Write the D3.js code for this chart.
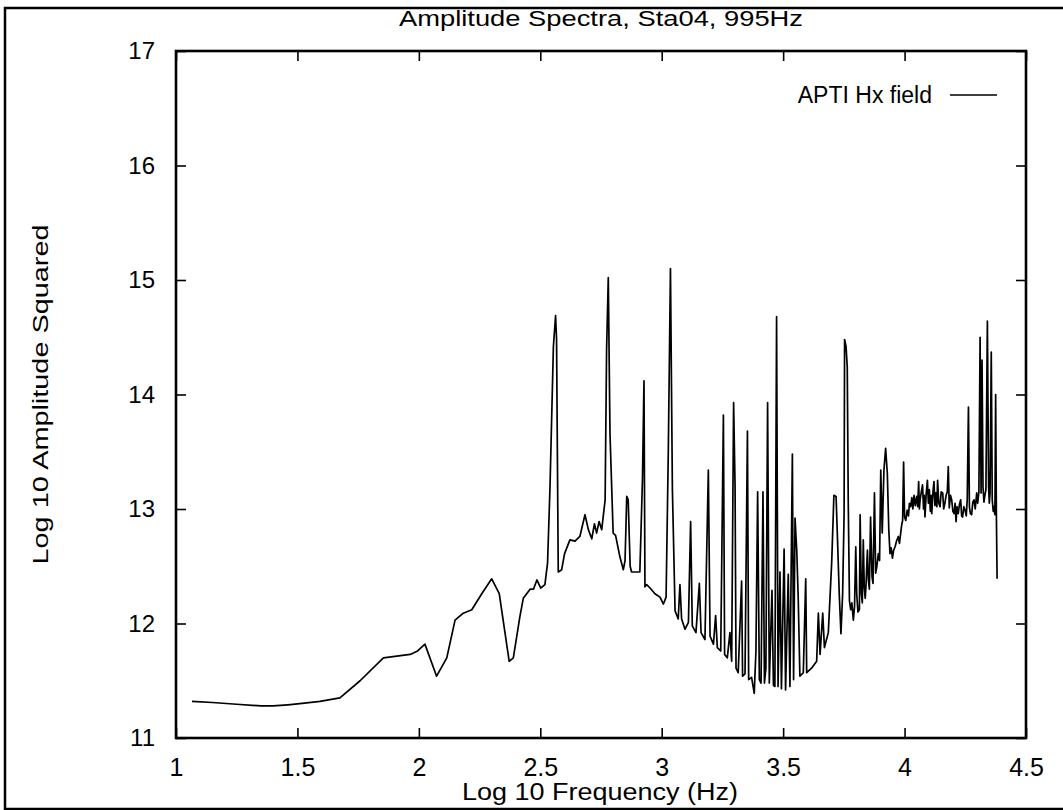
<!DOCTYPE html>
<html>
<head>
<meta charset="utf-8">
<script src="https://cdn.jsdelivr.net/npm/d3@7"></script>
<style>
  body { margin: 0; background: #fff; }
  text { font-family: "Liberation Sans", Arial, sans-serif; fill: #000; }
</style>
</head>
<body>
<script>
var chartTitle = "Amplitude Spectra, Sta04, 995Hz";
var xLabel = "Log 10 Frequency (Hz)";
var yLabel = "Log 10 Amplitude Squared";
var seriesName = "APTI Hx field";
var xTicks = [1, 1.5, 2, 2.5, 3, 3.5, 4, 4.5];
var yTicks = [11, 12, 13, 14, 15, 16, 17];

// log10 frequency (Hz)
var logFreq = [
  1.066, 1.15, 1.25, 1.35, 1.40, 1.46, 1.51, 1.593, 1.675, 1.758, 1.854, 1.964, 1.995, 2.025,
  2.073, 2.115, 2.149, 2.183, 2.218, 2.259, 2.30, 2.331, 2.372, 2.389, 2.416, 2.43, 2.458,
  2.472, 2.486, 2.502, 2.519, 2.53, 2.54, 2.554, 2.563, 2.567, 2.574, 2.588, 2.60, 2.622,
  2.643, 2.663, 2.684, 2.698, 2.712, 2.723, 2.732, 2.742, 2.753, 2.767, 2.773, 2.78, 2.787,
  2.80, 2.81, 2.828, 2.842, 2.849, 2.856, 2.862, 2.87, 2.876, 2.91, 2.921, 2.927,
  2.931, 2.938, 2.952, 2.972, 2.993, 3.007, 3.018, 3.027, 3.036, 3.044, 3.055, 3.068, 3.075,
  3.082, 3.096, 3.110, 3.119, 3.126, 3.141, 3.155, 3.162, 3.178, 3.192, 3.199, 3.213, 3.222,
  3.229, 3.243, 3.254, 3.259, 3.270, 3.281, 3.288, 3.296, 3.302, 3.306, 3.315, 3.329, 3.333,
  3.343, 3.353, 3.358, 3.370, 3.381, 3.388, 3.395, 3.402, 3.409, 3.417, 3.423, 3.429, 3.436,
  3.443, 3.454, 3.460, 3.466, 3.473, 3.479, 3.487, 3.493, 3.504, 3.510, 3.521, 3.528, 3.538,
  3.543, 3.549, 3.556, 3.562, 3.569, 3.583, 3.593, 3.597, 3.617, 3.638, 3.645, 3.652, 3.663,
  3.670, 3.686, 3.700, 3.709, 3.718, 3.723, 3.731, 3.738, 3.745, 3.751, 3.753, 3.759, 3.764,
  3.768, 3.773, 3.778, 3.783, 3.789, 3.794, 3.799, 3.803, 3.808, 3.814, 3.817, 3.822, 3.826,
  3.830, 3.834, 3.838, 3.841, 3.847, 3.851, 3.855, 3.860, 3.866, 3.870, 3.876, 3.881, 3.886,
  3.892, 3.897, 3.902, 3.908, 3.915, 3.922, 3.929, 3.935, 3.940, 3.945, 3.950, 3.955, 3.961,
  3.967, 3.974, 3.979, 3.984, 3.988, 3.992, 3.996, 4.000, 4.005, 4.011, 4.016, 4.020, 4.025,
  4.030, 4.034, 4.039, 4.044, 4.050, 4.054, 4.058, 4.061, 4.064, 4.069, 4.074, 4.078, 4.081,
  4.084, 4.089, 4.094, 4.098, 4.102, 4.106, 4.109, 4.112, 4.117, 4.121, 4.125, 4.129, 4.133,
  4.136, 4.141, 4.146, 4.151, 4.157, 4.161, 4.166, 4.171, 4.176, 4.180, 4.184, 4.189, 4.194,
  4.199, 4.204, 4.208, 4.212, 4.216, 4.221, 4.226, 4.231, 4.235, 4.239, 4.244, 4.249, 4.254,
  4.258, 4.263, 4.267, 4.271, 4.276, 4.281, 4.286, 4.291, 4.297, 4.301, 4.306, 4.311, 4.315,
  4.319, 4.323, 4.327, 4.330, 4.335, 4.341, 4.346, 4.349, 4.352, 4.357, 4.361, 4.365, 4.368,
  4.372, 4.375, 4.378, 4.381
];

// log10 amplitude squared at each frequency above
var logAmp = [
  11.32, 11.31, 11.295, 11.28, 11.28, 11.29, 11.30, 11.32, 11.35, 11.50, 11.70, 11.73, 11.76, 11.82,
  11.54, 11.70, 12.03, 12.09, 12.12, 12.26, 12.39, 12.26, 11.67, 11.70, 12.06, 12.22, 12.30,
  12.30, 12.38, 12.31, 12.34, 12.53, 13.19, 14.42, 14.69, 14.48, 12.45, 12.47, 12.61, 12.73,
  12.72, 12.76, 12.95, 12.82, 12.74, 12.87, 12.79, 12.89, 12.82, 13.08, 14.39, 15.02, 13.66,
  12.79, 12.77, 12.58, 12.47, 12.55, 13.11, 13.08, 12.50, 12.45, 12.45, 13.28, 14.12,
  12.32, 12.34, 12.31, 12.26, 12.23, 12.17, 12.23, 13.48, 15.10, 13.17, 12.11, 12.04, 12.34,
  12.04, 11.95, 12.01, 12.89, 11.98, 11.92, 12.35, 11.92, 11.86, 13.34, 11.89, 11.82, 12.07,
  11.79, 11.76, 13.82, 11.73, 11.70, 11.92, 11.67, 13.93, 13.20, 11.61, 11.57, 12.37, 11.54,
  11.56, 13.68, 11.51, 11.53, 11.39, 11.76, 13.15, 11.51, 11.48, 13.15, 11.48, 11.61, 13.93,
  11.48, 12.29, 11.46, 11.45, 14.68, 11.45, 12.45, 11.43, 12.65, 11.42, 12.43, 11.45, 13.48,
  11.51, 12.92, 12.64, 12.23, 11.54, 11.57, 12.39, 11.57, 11.61, 11.67, 12.09, 11.73, 12.09,
  11.79, 11.92, 12.54, 13.12, 13.11, 12.79, 12.26, 11.91, 12.26, 12.96, 14.48, 14.42, 14.24,
  13.08, 12.20, 12.12, 12.18, 12.03, 12.15, 12.67, 12.26, 12.10, 12.12, 12.95, 12.26, 12.18,
  12.73, 12.32, 12.22, 12.32, 12.64, 12.38, 12.30, 12.93, 12.41, 12.35, 13.14, 12.44, 12.50,
  12.61, 12.55, 13.34, 12.79, 13.34, 13.53, 13.31, 12.82, 12.61, 12.66, 12.57, 12.64, 12.67,
  12.72, 12.76, 12.70, 12.79, 12.86, 12.90, 13.41, 12.93, 12.90, 12.99, 12.94, 13.05, 13.02,
  13.10, 13.00, 13.12, 13.03, 13.11, 13.02, 13.24, 13.00, 13.08, 13.15, 13.21, 13.00, 13.12,
  12.93, 13.13, 13.25, 13.05, 13.17, 12.98, 13.12, 12.96, 13.15, 13.24, 13.03, 13.14, 13.02,
  13.25, 13.05, 13.02, 13.15, 13.14, 13.00, 13.05, 13.12, 13.15, 13.37, 13.01, 13.12, 13.08,
  12.98, 12.96, 13.05, 12.89, 13.02, 12.96, 13.04, 13.08, 12.94, 12.93, 13.02, 12.99, 12.94,
  13.08, 13.89, 13.02, 12.96, 12.95, 13.06, 13.08, 13.00, 13.14, 13.05, 13.15, 14.50, 13.14,
  14.30, 13.19, 13.06, 13.11, 13.17, 14.64, 13.19, 13.05, 13.14, 14.37, 13.08, 12.98, 13.02,
  12.95, 14.00, 12.96, 12.39
];

var width = 1063, height = 810,
    plotL = 176, plotR = 1026, plotT = 51, plotB = 738;

var svg = d3.select("body").append("svg")
  .attr("width", width)
  .attr("height", height);

// scanned page frame (no right edge in the scan)
svg.append("path")
  .attr("d", "M1063,8 L5,8 L5,809 L1063,809")
  .attr("fill", "none")
  .attr("stroke", "#000")
  .attr("stroke-width", 2.5);

var x = d3.scaleLinear().domain([1, 4.5]).range([plotL, plotR]);
var y = d3.scaleLinear().domain([11, 17]).range([plotB, plotT]);

var xAxis = svg.append("g")
  .attr("transform", "translate(0," + plotB + ")")
  .call(d3.axisBottom(x).tickValues(xTicks).tickSizeInner(-10).tickSizeOuter(0).tickPadding(20)
    .tickFormat(function(d) { return d; }));
xAxis.selectAll("text").style("font-size", "25px");

var yAxis = svg.append("g")
  .attr("transform", "translate(" + plotL + ",0)")
  .call(d3.axisLeft(y).tickValues(yTicks).tickSizeInner(-10).tickSizeOuter(0).tickPadding(21)
    .tickFormat(d3.format("d")));
yAxis.selectAll("text").style("font-size", "24px");

svg.append("g")
  .attr("transform", "translate(0," + plotT + ")")
  .call(d3.axisTop(x).tickValues(xTicks).tickSizeInner(-10).tickSizeOuter(0).tickFormat(""));
svg.append("g")
  .attr("transform", "translate(" + plotR + ",0)")
  .call(d3.axisRight(y).tickValues(yTicks).tickSizeInner(-10).tickSizeOuter(0).tickFormat(""));

svg.selectAll(".domain").remove();
svg.selectAll(".tick line").attr("stroke", "#000").attr("stroke-width", 1.6);

svg.append("rect")
  .attr("x", plotL).attr("y", plotT)
  .attr("width", plotR - plotL).attr("height", plotB - plotT)
  .attr("fill", "none")
  .attr("stroke", "#000")
  .attr("stroke-width", 2.6);

var points = logFreq.map(function(f, i) { return [f, logAmp[i]]; });

var line = d3.line()
  .x(function(d) { return x(d[0]); })
  .y(function(d) { return y(d[1]); });

svg.append("path")
  .datum(points)
  .attr("d", line)
  .attr("fill", "none")
  .attr("stroke", "#000")
  .attr("stroke-width", 1.7)
  .attr("stroke-linejoin", "round");

svg.append("text")
  .attr("x", (plotL + plotR) / 2)
  .attr("y", 26)
  .attr("text-anchor", "middle")
  .attr("textLength", 404)
  .attr("lengthAdjust", "spacingAndGlyphs")
  .style("font-size", "22px")
  .text(chartTitle);

svg.append("text")
  .attr("x", 600)
  .attr("y", 800)
  .attr("text-anchor", "middle")
  .attr("textLength", 276)
  .attr("lengthAdjust", "spacingAndGlyphs")
  .style("font-size", "23px")
  .text(xLabel);

svg.append("text")
  .attr("transform", "translate(48," + ((plotT + plotB) / 2) + ") rotate(-90)")
  .attr("text-anchor", "middle")
  .attr("textLength", 340)
  .attr("lengthAdjust", "spacingAndGlyphs")
  .style("font-size", "22px")
  .text(yLabel);

// legend
svg.append("text")
  .attr("x", 932)
  .attr("y", 103)
  .attr("text-anchor", "end")
  .style("font-size", "23px")
  .text(seriesName);
svg.append("line")
  .attr("x1", 950).attr("x2", 997)
  .attr("y1", 95).attr("y2", 95)
  .attr("stroke", "#000")
  .attr("stroke-width", 1.5);
</script>
</body>
</html>
